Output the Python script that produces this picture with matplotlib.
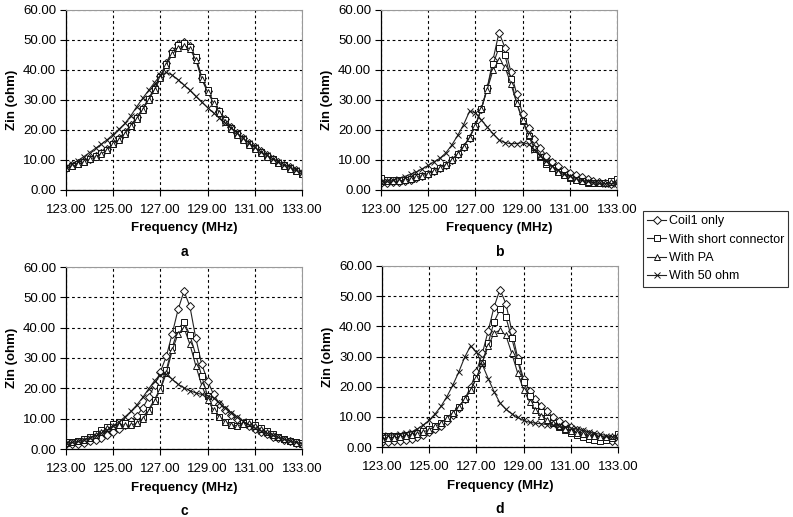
import numpy as np
import matplotlib
matplotlib.use("Agg")
import matplotlib.pyplot as plt

plt.rcParams['font.family'] = ['Liberation Sans', 'DejaVu Sans']

# frequency grid, 0.25 MHz steps
freq = np.arange(123.0, 133.01, 0.25)

series_names = ['Coil1 only', 'With short connector', 'With PA', 'With 50 ohm']
panel_letters = ['a', 'b', 'c', 'd']

#----------------------------------------------------------------------
# panel a
coil_a = [7.5, 8.2, 8.9, 9.7, 10.5, 11.4, 12.4, 13.6, 15.6, 17.3, 19.3, 21.7,
          24.2, 27.2, 30.5, 34.0, 38.0, 42.5, 46.2, 48.6, 49.3, 48.0, 44.0, 37.5,
          33.0, 29.5, 26.5, 23.6, 21.0, 19.0, 17.2, 15.6, 14.2, 12.9, 11.7, 10.5,
          9.4, 8.5, 7.6, 6.7, 5.8]
short_a = [7.3, 8.0, 8.7, 9.5, 10.3, 11.2, 12.2, 13.4, 15.4, 17.0, 19.0, 21.4,
           23.9, 26.9, 30.2, 33.6, 37.6, 42.0, 45.8, 48.2, 48.9, 47.8, 44.2, 37.8,
           33.2, 29.6, 26.4, 23.4, 20.8, 18.8, 17.0, 15.4, 14.0, 12.6, 11.4, 10.2,
           9.1, 8.2, 7.3, 6.4, 5.5]
pa_a = [7.2, 7.9, 8.6, 9.4, 10.2, 11.1, 12.1, 13.3, 15.2, 16.8, 18.8, 21.2,
        23.7, 26.7, 30.0, 33.4, 37.3, 41.6, 45.2, 47.5, 48.0, 47.0, 43.4, 37.0,
        32.6, 29.0, 25.8, 22.8, 20.3, 18.3, 16.6, 15.0, 13.6, 12.3, 11.1, 10.0,
        8.9, 8.0, 7.1, 6.2, 5.3]
ohm50_a = [7.6, 8.6, 9.8, 11.1, 12.5, 13.9, 15.3, 16.8, 18.5, 20.3, 22.2, 24.8,
           27.8, 30.6, 33.2, 35.8, 38.2, 39.2, 38.3, 36.8, 35.0, 33.2, 31.2, 29.3,
           27.5, 25.7, 24.0, 22.3, 20.7, 19.0, 17.3, 15.7, 14.2, 12.8, 11.6, 10.5,
           9.4, 8.5, 7.6, 6.7, 5.8]

# panel b
coil_b = [2.3, 2.4, 2.6, 2.8, 3.1, 3.5, 4.0, 4.7, 5.5, 6.4, 7.4, 8.5,
          10.0, 12.0, 14.5, 17.5, 21.5, 27.0, 34.0, 43.5, 52.5, 47.5, 39.5, 32.0,
          25.5, 20.8, 17.0, 14.0, 11.5, 9.5, 8.0, 6.8, 5.8, 4.9, 4.2, 3.6,
          3.1, 2.7, 2.4, 2.1, 1.9]
short_b = [4.0, 3.4, 3.2, 3.2, 3.4, 3.7, 4.2, 4.8, 5.5, 6.3, 7.3, 8.5,
           10.0, 12.0, 14.5, 17.5, 21.5, 27.0, 34.0, 42.0, 47.5, 45.0, 37.0, 29.0,
           23.0, 18.0, 13.8, 11.0, 8.8, 7.2, 5.9, 4.9, 4.1, 3.4, 2.9, 2.5,
           2.2, 2.2, 2.5, 3.0, 3.8]
pa_b = [3.0, 2.9, 2.9, 3.0, 3.3, 3.7, 4.2, 4.8, 5.5, 6.3, 7.3, 8.5,
        10.0, 12.0, 14.5, 17.5, 21.5, 27.0, 33.5, 40.0, 43.3, 41.0, 35.5, 29.0,
        23.5, 18.5, 14.5, 11.5, 9.2, 7.5, 6.1, 5.0, 4.2, 3.5, 3.0, 2.6,
        2.3, 2.2, 2.3, 2.6, 3.0]
ohm50_b = [2.7, 3.0, 3.3, 3.8, 4.5, 5.2, 6.0, 7.1, 8.2, 9.4, 10.6, 12.4,
           15.0, 18.2, 21.8, 26.2, 25.8, 23.4, 21.0, 18.8, 16.7, 15.8, 15.4, 15.5,
           15.8, 15.3, 13.5, 11.5, 9.6, 8.0, 6.6, 5.5, 4.6, 3.9, 3.3, 2.9,
           2.5, 2.3, 2.1, 2.1, 2.2]

# panel c
coil_c = [1.5, 1.6, 1.8, 2.1, 2.5, 3.0, 3.7, 4.5, 5.5, 6.5, 7.8, 9.2,
          11.0, 13.5, 17.0, 21.0, 25.5, 30.5, 38.0, 46.0, 52.0, 47.0, 36.5, 28.0,
          22.5, 18.0, 15.0, 13.0, 11.3, 9.8, 8.6, 7.5, 6.5, 5.6, 4.8, 4.1,
          3.5, 3.0, 2.5, 2.1, 1.8]
short_c = [2.2, 2.4, 2.7, 3.2, 4.0, 5.0, 6.2, 7.4, 8.3, 8.8, 8.6, 8.3,
           9.0, 10.5, 13.0, 16.3, 20.0, 26.0, 33.5, 39.5, 42.0, 37.5, 31.0, 24.0,
           17.5, 13.5, 10.5, 8.8, 8.0, 7.5, 8.5, 8.8, 7.8, 7.0, 5.9, 4.9,
           4.0, 3.3, 2.7, 2.2, 1.9]
pa_c = [2.0, 2.2, 2.5, 3.0, 3.7, 4.6, 5.7, 6.8, 7.6, 8.0, 7.9, 7.8,
        8.6, 10.0, 12.5, 15.8, 19.5, 25.0, 32.5, 38.0, 40.0, 34.5, 27.5, 21.0,
        16.2, 12.8, 10.4, 8.9, 8.0, 7.6, 8.2, 8.5, 7.6, 6.6, 5.6, 4.7,
        3.9, 3.2, 2.6, 2.1, 1.8]
ohm50_c = [1.9, 2.2, 2.5, 3.0, 3.6, 4.3, 5.2, 6.3, 7.6, 9.0, 10.6, 12.4,
           14.5, 17.0, 19.8, 22.5, 24.5, 24.6, 23.0, 21.3, 20.2, 19.2, 18.5, 18.0,
           17.6, 16.8, 15.3, 13.6, 12.0, 10.5, 9.2, 8.0, 6.9, 6.0, 5.2, 4.5,
           3.8, 3.2, 2.7, 2.2, 1.8]

# panel d
coil_d = [1.8, 1.8, 1.9, 2.1, 2.4, 2.8, 3.3, 4.0, 4.9, 5.9, 7.1, 8.6,
          10.5, 12.8, 15.8, 19.8, 25.0, 31.0, 38.5, 46.5, 52.2, 47.5, 38.5, 29.5,
          22.5, 18.6, 15.8, 13.5, 11.8, 10.0, 8.7, 7.6, 6.6, 5.7, 5.0, 4.4,
          3.7, 3.1, 2.5, 2.0, 1.6]
short_d = [3.7, 3.6, 3.6, 3.7, 3.9, 4.2, 4.6, 5.2, 5.9, 6.8, 8.0, 9.5,
           11.3, 13.4, 15.8, 18.8, 22.8, 28.0, 34.5, 41.5, 45.6, 43.0, 36.0, 28.5,
           21.5, 17.0, 13.8, 11.5, 9.6, 8.0, 6.7, 5.6, 4.7, 4.0, 3.3, 2.7,
           2.3, 2.1, 2.3, 3.0, 4.4]
pa_d = [2.8, 2.9, 3.0, 3.2, 3.5, 3.9, 4.4, 5.0, 5.8, 6.8, 8.0, 9.5,
        11.3, 13.4, 15.8, 18.8, 22.8, 28.0, 33.5, 37.8, 38.7, 37.0, 31.0, 24.5,
        19.0, 15.0, 12.3, 10.4, 9.0, 7.8, 6.8, 6.0, 5.3, 4.7, 4.2, 3.8,
        3.5, 3.4, 3.4, 3.6, 3.9]
ohm50_d = [3.8, 3.9, 4.0, 4.2, 4.5, 5.0, 6.0, 7.3, 8.9, 11.0, 13.5, 16.7,
           20.5, 24.8, 29.7, 33.5, 31.5, 27.3, 22.7, 18.3, 14.6, 12.5, 11.0, 9.8,
           8.8, 8.2, 7.9, 7.7, 7.4, 7.2, 7.0, 6.7, 6.3, 5.9, 5.5, 5.0,
           4.6, 4.2, 3.8, 3.4, 3.0]

panels = [[coil_a, short_a, pa_a, ohm50_a],
          [coil_b, short_b, pa_b, ohm50_b],
          [coil_c, short_c, pa_c, ohm50_c],
          [coil_d, short_d, pa_d, ohm50_d]]

markers = ['D', 's', '^', 'x']
msizes = [3.6, 4.0, 4.6, 4.4]

# axes placement in pixels (left, top, bottom) for a 793x517 canvas
W, H = 793.0, 517.0
boxes = [(66, 10, 190), (381, 10, 190), (66, 267, 449), (382, 266, 447)]

fig = plt.figure(figsize=(7.93, 5.17), dpi=100)

handles = []
for k in range(4):
    left, top, bottom = boxes[k]
    ax = fig.add_axes([left / W, (H - bottom) / H, 236 / W, (bottom - top) / H])
    for s in range(4):
        ln, = ax.plot(freq, panels[k][s], color='#222222', lw=0.8,
                      marker=markers[s], ms=msizes[s], mfc='white',
                      mec='#111111', mew=0.7, label=series_names[s])
        if k == 0:
            handles.append(ln)
    ax.set_xlim(123, 133)
    ax.set_ylim(0, 60)
    ax.set_xticks(np.arange(123, 133.1, 2))
    ax.set_yticks(np.arange(0, 60.1, 10))
    ax.xaxis.set_major_formatter(matplotlib.ticker.FormatStrFormatter('%.2f'))
    ax.yaxis.set_major_formatter(matplotlib.ticker.FormatStrFormatter('%.2f'))
    ax.tick_params(direction='out', length=4, width=0.8, labelsize=9.5,
                   colors='black', pad=3)
    ax.tick_params(axis='x', pad=6)
    ax.grid(True, color='black', ls=(0, (2.5, 2.5)), lw=0.8)
    for sp in ['left', 'bottom']:
        ax.spines[sp].set_color('black')
        ax.spines[sp].set_linewidth(0.9)
    for sp in ['top', 'right']:
        ax.spines[sp].set_color('#9a9a9a')
        ax.spines[sp].set_linewidth(0.8)
    ax.set_xlabel('Frequency (MHz)', fontsize=9.5, fontweight='bold')
    ax.xaxis.set_label_coords(0.5, -0.18)
    ax.set_ylabel('Zin (ohm)', fontsize=9.5, fontweight='bold')
    ax.yaxis.set_label_coords(-0.205, 0.5)
    ax.text(0.5, -62.0 / (bottom - top), panel_letters[k], transform=ax.transAxes,
            ha='center', va='center', fontsize=10, fontweight='bold')

leg = fig.legend(handles, series_names, loc='upper left',
                 bbox_to_anchor=(643 / W, (H - 211) / H), fontsize=9.0,
                 frameon=True, fancybox=False, edgecolor='black',
                 handlelength=1.5, handletextpad=0.2, borderpad=0.35,
                 borderaxespad=0, labelspacing=0.5)
leg.get_frame().set_linewidth(0.8)

fig.savefig('out.png', dpi=100, facecolor='white')
